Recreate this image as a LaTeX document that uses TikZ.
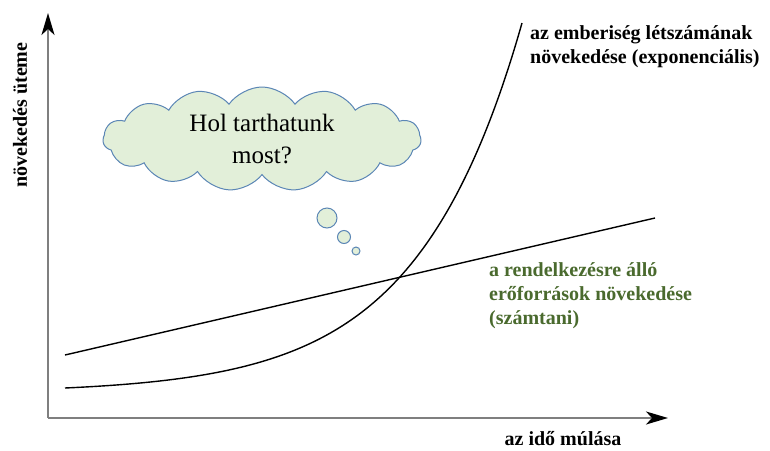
\documentclass[tikz,border=0pt]{standalone}
\usepackage{fontspec}
\setmainfont{Liberation Serif}
\usetikzlibrary{shapes.symbols, arrows.meta, positioning}
\definecolor{CloudFill}{HTML}{E2EFD9}
\definecolor{CloudLine}{HTML}{5B86B5}
\definecolor{LeafGreen}{HTML}{4A6A2E}
\definecolor{AxisGray}{HTML}{7F7F7F}

\begin{document}
\begin{tikzpicture}[x=1pt, y=-1pt]
    \tikzstyle{axis} = [AxisGray, line width=2pt, -{Stealth[black, length=22pt, width=13pt, inset=6pt]}]
    \tikzstyle{curve} = [black, line width=1.4pt]
    \tikzstyle{lbl} = [font=\fontsize{20}{24}\selectfont\bfseries, align=left, inner sep=0pt]
    \tikzstyle{bubble} = [circle, draw=CloudLine, fill=CloudFill, line width=1pt, inner sep=0pt]

    \useasboundingbox (0,0) rectangle (770,450);

    % axes
    \coordinate (origin) at (48,418);
    \coordinate (ytop) at (48,13);
    \coordinate (xend) at (668,418);
    \draw [axis] (origin) -- (ytop);
    \draw [axis] (origin) -- (xend);
    \node [lbl, rotate=90] (ylbl) at (20,115) {növekedés üteme};
    \node [lbl] (xlbl) at (563,439) {az idő múlása};

    % exponential growth
    \draw [curve] plot [domain=65:522, samples=120, smooth] (\x, {388-4.8*(exp(0.0095*(\x-65))-1)});
    \node [lbl, anchor=north west] (expo) at (530,25) {az emberiség létszámának\\növekedése (exponenciális)};

    % arithmetic growth
    \coordinate (linA) at (65,355);
    \coordinate (linB) at (655,218);
    \draw [curve] (linA) -- (linB);
    \node [lbl, text=LeafGreen, anchor=north west] (arit) at (489,262) {a rendelkezésre álló\\erőforrások növekedése\\(számtani)};

    % thought cloud
    \node [cloud, cloud puffs=15, cloud puff arc=110, aspect=3, draw=CloudLine, fill=CloudFill, line width=1pt,
           minimum width=318pt, minimum height=104pt, align=center,
           font=\fontsize{25}{32}\selectfont] (cloud) at (262,139) {Hol tarthatunk\\most?};
    \node [bubble, minimum size=20pt] (b1) at (327,218) {};
    \node [bubble, minimum size=13pt] (b2) at (344,237) {};
    \node [bubble, minimum size=8pt] (b3) at (356,251) {};
\end{tikzpicture}
\end{document}
